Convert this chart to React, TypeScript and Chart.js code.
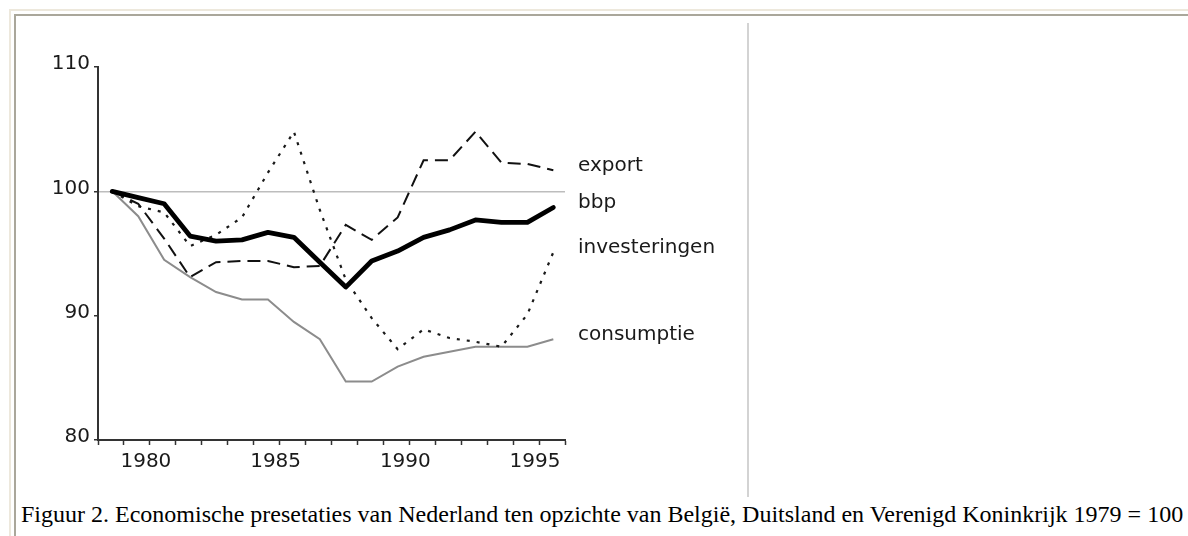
import React, { useEffect, useRef } from "react";
import { Chart, registerables } from "chart.js";

Chart.register(...registerables);

// ---- data ----
const years = [1979, 1980, 1981, 1982, 1983, 1984, 1985, 1986, 1987, 1988, 1989, 1990, 1991, 1992, 1993, 1994, 1995, 1996];
const bbp = [100, 99.5, 99.0, 96.4, 96.0, 96.1, 96.7, 96.3, 94.3, 92.3, 94.4, 95.2, 96.3, 96.9, 97.7, 97.5, 97.5, 98.7];
const exportSeries = [100, 99.0, 96.2, 93.1, 94.3, 94.4, 94.4, 93.9, 94.0, 97.3, 96.1, 97.9, 102.5, 102.5, 104.8, 102.3, 102.2, 101.7];
const investeringen = [100, 98.8, 98.3, 95.6, 96.5, 97.9, 101.5, 104.8, 98.5, 92.9, 89.8, 87.3, 88.9, 88.2, 87.9, 87.5, 90.1, 95.1];
const consumptie = [100, 98.0, 94.5, 93.1, 91.9, 91.3, 91.3, 89.5, 88.1, 84.7, 84.7, 85.9, 86.7, 87.1, 87.5, 87.5, 87.5, 88.1];
const seriesNames = ["bbp", "export", "investeringen", "consumptie"];
const yTicks = [80, 90, 100, 110];
const xLabelYears = [1980, 1985, 1990, 1995];
const referenceLevel = 100;
const caption =
  "Figuur 2. Economische presetaties van Nederland ten opzichte van België, Duitsland en Verenigd Koninkrijk 1979 = 100";

const BOUNDARY = 0.55; // tick marks sit between the years
const FONT = "'DejaVu Sans', sans-serif";

export default function App() {
  const ref = useRef<HTMLCanvasElement | null>(null);

  useEffect(() => {
    if (!ref.current) return;
    const toPts = (vals: number[]) => vals.map((v, i) => ({ x: years[i], y: v }));
    const tickVals = [...years.map((y) => y - BOUNDARY), years[years.length - 1] + 1 - BOUNDARY];

    const endLabels = {
      id: "endLabels",
      afterDatasetsDraw(chart: any) {
        const { ctx, chartArea } = chart;
        ctx.save();
        ctx.font = `20px ${FONT}`;
        ctx.fillStyle = "#1a1a1a";
        ctx.textAlign = "left";
        ctx.textBaseline = "alphabetic";
        chart.data.datasets.forEach((ds: any, i: number) => {
          const meta = chart.getDatasetMeta(i);
          const last = meta.data[meta.data.length - 1];
          if (!last) return;
          ctx.fillText(ds.label, chartArea.right + 13, last.y + 1);
        });
        ctx.restore();
      },
    };

    const chart = new Chart(ref.current, {
      type: "line",
      data: {
        datasets: [
          {
            label: seriesNames[0],
            data: toPts(bbp),
            borderColor: "#000",
            borderWidth: 4.8,
            borderJoinStyle: "round",
            borderCapStyle: "round",
            pointRadius: 0,
          },
          {
            label: seriesNames[1],
            data: toPts(exportSeries),
            borderColor: "#111",
            borderWidth: 2,
            borderDash: [13, 7],
            pointRadius: 0,
          },
          {
            label: seriesNames[2],
            data: toPts(investeringen),
            borderColor: "#1a1a1a",
            borderWidth: 2.2,
            borderDash: [3, 7],
            pointRadius: 0,
          },
          {
            label: seriesNames[3],
            data: toPts(consumptie),
            borderColor: "#8c8c8c",
            borderWidth: 2,
            pointRadius: 0,
          },
        ],
      },
      options: {
        animation: false,
        responsive: false,
        devicePixelRatio: 1,
        layout: { padding: { left: 0, top: 67, right: 183, bottom: 0 } },
        plugins: { legend: { display: false }, tooltip: { enabled: false } },
        elements: { line: { tension: 0 }, point: { radius: 0 } },
        scales: {
          x: {
            type: "linear",
            min: tickVals[0],
            max: tickVals[tickVals.length - 1],
            afterBuildTicks: (s: any) => {
              s.ticks = tickVals.map((v) => ({ value: v }));
            },
            afterFit: (s: any) => {
              s.height = 60;
            },
            grid: {
              drawOnChartArea: false,
              drawTicks: true,
              tickLength: 5,
              tickWidth: 1.5,
              tickColor: "#333",
            },
            border: { display: true, color: "#333", width: 2 },
            ticks: {
              autoSkip: false,
              maxRotation: 0,
              minRotation: 0,
              padding: 5,
              labelOffset: -4,
              color: "#1a1a1a",
              font: { family: FONT, size: 20 },
              callback: (v: any) => {
                const yr = Math.round(Number(v) - (1 - BOUNDARY));
                return xLabelYears.includes(yr) ? String(yr) : "";
              },
            },
          },
          y: {
            type: "linear",
            min: yTicks[0],
            max: yTicks[yTicks.length - 1],
            afterBuildTicks: (s: any) => {
              s.ticks = yTicks.map((v) => ({ value: v }));
            },
            afterFit: (s: any) => {
              s.width = 98;
            },
            grid: {
              color: (c: any) =>
                c.tick && c.tick.value === referenceLevel ? "#bdbdbd" : "rgba(0,0,0,0)",
              lineWidth: 1.5,
              drawTicks: true,
              tickLength: 4,
              tickWidth: 1.5,
              tickColor: "#333",
            },
            border: { display: true, color: "#333", width: 2 },
            ticks: {
              padding: 4,
              labelOffset: -3,
              color: "#1a1a1a",
              font: { family: FONT, size: 20 },
            },
          },
        },
      },
      plugins: [endLabels],
    } as any);

    return () => chart.destroy();
  }, []);

  return (
    <div
      style={{
        position: "absolute",
        left: 0,
        top: 0,
        width: 1188,
        height: 536,
        overflow: "hidden",
        background: "#fff",
      }}
    >
      <div
        style={{
          position: "absolute",
          left: 9,
          top: 9,
          width: 1300,
          height: 700,
          borderTop: "2px solid #ede8dc",
          borderLeft: "2px solid #ede8dc",
        }}
      />
      <div
        style={{
          position: "absolute",
          left: 14,
          top: 14,
          width: 1300,
          height: 700,
          borderTop: "2px solid #aaa79b",
          borderLeft: "2px solid #aaa79b",
        }}
      />
      <canvas
        ref={ref}
        width={748}
        height={500}
        style={{ position: "absolute", left: 0, top: 0, width: 748, height: 500 }}
      />
      <div
        style={{
          position: "absolute",
          left: 747,
          top: 23,
          width: 2,
          height: 474,
          background: "#d3d3d3",
        }}
      />
      <div
        style={{
          position: "absolute",
          left: 21,
          top: 501,
          whiteSpace: "nowrap",
          font: "24px 'Liberation Serif', 'Times New Roman', serif",
          color: "#000",
        }}
      >
        {caption}
      </div>
    </div>
  );
}
